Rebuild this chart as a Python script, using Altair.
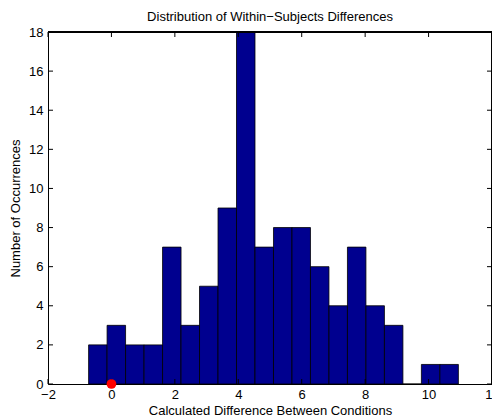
import altair as alt
import pandas as pd

bin_start = [-0.72, -0.137, 0.446, 1.029, 1.612, 2.195, 2.778, 3.361, 3.944, 4.527,
             5.11, 5.693, 6.276, 6.859, 7.442, 8.025, 8.608, 9.191, 9.774, 10.357]
bin_end = bin_start[1:] + [10.94]
counts = [2, 3, 2, 2, 7, 3, 5, 9, 18, 7, 8, 8, 6, 4, 7, 4, 3, 0, 1, 1]
x_ticks = [-2, 0, 2, 4, 6, 8, 10, 12]
y_ticks = [0, 2, 4, 6, 8, 10, 12, 14, 16, 18]
marker_x = [0]
marker_y = [0]

W, H = 444, 352
FONT = "Liberation Sans"
FS = 13

bars_df = pd.DataFrame({"x": bin_start, "x2": bin_end, "y": [0] * len(counts), "y2": counts})
xt_df = pd.DataFrame({"t": x_ticks})
yt_df = pd.DataFrame({"t": y_ticks})
pt_df = pd.DataFrame({"x": marker_x, "y": marker_y})

xs = alt.Scale(domain=[-2, 12], nice=False, zero=False)
ys = alt.Scale(domain=[0, 18], nice=False, zero=False)

x_axis = alt.Axis(values=x_ticks, ticks=False, grid=False, labelFontSize=FS, labelFont=FONT,
                  labelColor="black", domainColor="black", labelPadding=4, labelOverlap=False,
                  labelFlush=False,
                  title="Calculated Difference Between Conditions", titleFont=FONT,
                  titleFontSize=FS, titleFontWeight="normal", titleColor="black", titlePadding=3)
y_axis = alt.Axis(values=y_ticks, ticks=False, grid=False, labelFontSize=FS, labelFont=FONT,
                  labelColor="black", domainColor="black", labelPadding=5, labelOverlap=False,
                  labelFlush=False,
                  title="Number of Occurrences", titleFont=FONT,
                  titleFontSize=FS, titleFontWeight="normal", titleColor="black", titlePadding=6)

X = lambda f: alt.X(f, scale=xs, axis=x_axis)
Y = lambda f: alt.Y(f, scale=ys, axis=y_axis)

bars = alt.Chart(bars_df).mark_rect(color="#00008F", stroke="black", strokeWidth=0.8).encode(
    x=X("x:Q"), x2="x2:Q", y=Y("y:Q"), y2="y2:Q",
)

tick_len = 5
bottom_ticks = alt.Chart(xt_df).mark_rule(color="black", strokeWidth=1).encode(
    x=X("t:Q"), y=alt.value(H), y2=alt.value(H - tick_len))
top_ticks = alt.Chart(xt_df).mark_rule(color="black", strokeWidth=1).encode(
    x=X("t:Q"), y=alt.value(0), y2=alt.value(tick_len))
left_ticks = alt.Chart(yt_df).mark_rule(color="black", strokeWidth=1).encode(
    y=Y("t:Q"), x=alt.value(0), x2=alt.value(tick_len))
right_ticks = alt.Chart(yt_df).mark_rule(color="black", strokeWidth=1).encode(
    y=Y("t:Q"), x=alt.value(W), x2=alt.value(W - tick_len))
top_border = alt.Chart(xt_df).mark_rule(color="black", strokeWidth=1).encode(
    x=alt.value(0), x2=alt.value(W), y=alt.value(0))
right_border = alt.Chart(xt_df).mark_rule(color="black", strokeWidth=1).encode(
    x=alt.value(W), y=alt.value(0), y2=alt.value(H))

point = alt.Chart(pt_df).mark_point(filled=True, color="red", size=95, opacity=1).encode(
    x=X("x:Q"), y=Y("y:Q"))

chart = alt.layer(bars, bottom_ticks, top_ticks, left_ticks, right_ticks, top_border,
                  right_border, point).properties(
    width=W, height=H,
    title=alt.TitleParams("Distribution of Within\u2212Subjects Differences", font=FONT,
                          fontSize=FS, fontWeight="normal", color="black", offset=2),
    autosize=alt.AutoSizeParams(type="none"),
    padding={"left": 40, "top": 24, "right": 0, "bottom": 35},
).configure_view(stroke=None).configure(background="white")

chart.save("out.html", embed_options={"renderer": "svg", "actions": False})
